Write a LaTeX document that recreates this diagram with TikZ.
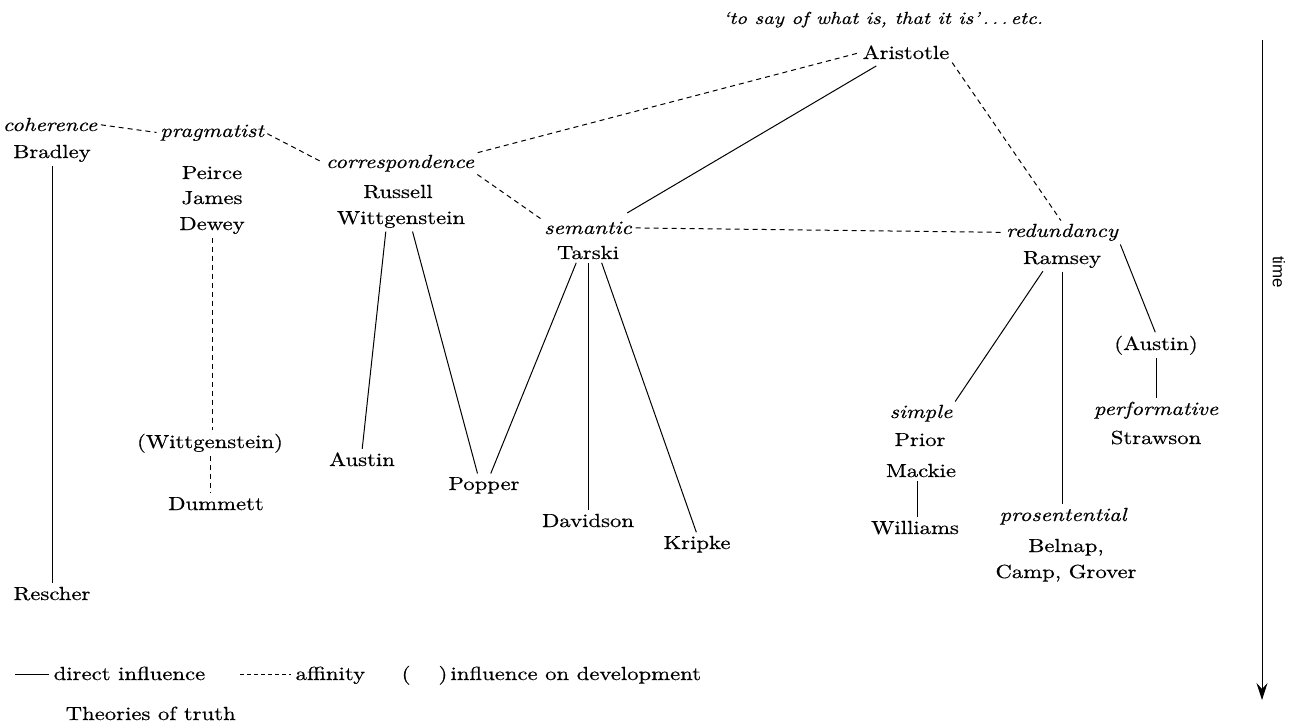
\documentclass[tikz,border=0pt]{standalone}
\usepackage{fontspec}
\setmainfont{lmroman10-regular}[Extension=.otf, ItalicFont=lmroman10-italic, BoldFont=lmroman10-bold, FakeStretch=1.2, FakeBold=0.5]
\newfontfamily\timefont{Liberation Sans}
\usetikzlibrary{arrows.meta,calc}

\begin{document}
\begin{tikzpicture}[x=1bp,y=-1bp,
  every node/.style={inner sep=1.5bp, anchor=base, font=\fontsize{19}{22}\selectfont},
  it/.style={font=\fontsize{19}{22}\selectfont\itshape},
  infl/.style={line width=1bp, shorten <=2bp, shorten >=2bp},
  affin/.style={line width=1bp, dash pattern=on 5bp off 4bp, shorten <=2bp, shorten >=2bp},
  legtext/.style={anchor=base west}]
\useasboundingbox (0,0) rectangle (1305,725);

% --- names and theories ---
\node[it, font=\fontsize{17.5}{21}\selectfont\itshape] (quote) at (883,24) {‘to say of what is, that it is’\,.\,.\,.\,etc.};
\node (arist) at (906,59) {Aristotle};

\node[it] (coh) at (50,131) {coherence};
\node (brad) at (52,158) {Bradley};
\node (resch) at (52,600) {Rescher};

\node[it] (prag) at (212,137) {pragmatist};
\node (peirce) at (212,179) {Peirce};
\node (james) at (212,204) {James};
\node (dewey) at (212,230) {Dewey};
\node (wittp) at (210,448) {(Wittgenstein)};
\node (dumm) at (216,510) {Dummett};

\node[it] (corr) at (400,168) {correspondence};
\node (russ) at (398,198) {Russell};
\node (wit) at (401,224) {Wittgenstein};
\node (austin) at (362,466) {Austin};
\node (popper) at (484,490) {Popper};

\node[it] (sem) at (588,234) {semantic};
\node (tarski) at (588,259) {Tarski};
\node (david) at (588,527) {Davidson};
\node (kripke) at (697,549) {Kripke};

\node[it] (red) at (1062,237) {redundancy};
\node (ramsey) at (1062,264) {Ramsey};
\node[it] (simple) at (921,418) {simple};
\node (prior) at (920,446) {Prior};
\node (mackie) at (921,477) {Mackie};
\node (will) at (915,534) {Williams};
\node[it] (prosent) at (1063,521) {prosentential};
\node (belnap) at (1066,552) {Belnap,};
\node (camp) at (1066,578) {Camp, Grover};
\node (austinb) at (1156,350) {(Austin)};
\node[it] (perf) at (1156,415) {performative};
\node (straw) at (1156,444) {Strawson};

% --- affinities (dashed) ---
\draw[affin] (coh.east) -- (prag.west);
\draw[affin] (prag.east) -- (corr.west);
\draw[affin] (corr.north east) -- (arist.west);
\draw[affin] (corr.south east) -- (sem.north west);
\draw[affin] (sem.east) -- (red.west);
\draw[affin] (arist.south east) -- (red.north);
\draw[affin] (dewey.south) -- (dewey.south |- wittp.north);
\draw[affin] (wittp.south) -- (wittp.south |- dumm.north);

% --- direct influences (solid) ---
\draw[infl] ($(sem.north east)+(-8,-6)$) -- ($(arist.south)+(-28,4)$);
\draw[infl] (brad.south) -- (resch.north);
\draw[infl] ($(wit.south)+(-15,0)$) -- (austin.north);
\draw[infl] ($(wit.south)+(11,0)$) -- ($(popper.north)+(-6,0)$);
\draw[infl] ($(tarski.south)+(-11,0)$) -- ($(popper.north)+(6,0)$);
\draw[infl] (tarski.south) -- (david.north);
\draw[infl] ($(tarski.south)+(13,0)$) -- (kripke.north);
\draw[infl] ($(ramsey.south)+(-18,0)$) -- (simple.north east);
\draw[infl] (ramsey.south) -- (ramsey.south |- prosent.north);
\draw[infl] (red.south east) -- (austinb.north);
\draw[infl] (austinb.south) -- (perf.north);
\draw[infl] ($(mackie.south)+(-4,0)$) -- ($(will.north)+(2,0)$);

% --- time axis ---
\coordinate (ttop) at (1262,40);
\coordinate (tbot) at (1262,700);
\draw[line width=1bp, -{Stealth[length=17bp,width=11bp,inset=6bp]}] (ttop) -- (tbot);
\node[rotate=-90, anchor=center, font=\timefont\fontsize{17}{20}\selectfont] (time) at (1279,272) {time};

% --- key ---
\coordinate (ka) at (15,674);
\coordinate (kb) at (49,674);
\draw[line width=1bp] (ka) -- (kb);
\node[legtext] (k1) at (52,680) {direct influence};
\coordinate (kc) at (240,674);
\coordinate (kd) at (291,674);
\draw[line width=1bp, dash pattern=on 4bp off 3bp] (kc) -- (kd);
\node[legtext] (k2) at (294,680) {affinity};
\node[legtext] (k3) at (400,680) {(\hspace{28bp})\,influence on development};
\node[legtext] (title) at (64,720) {Theories of truth};
\end{tikzpicture}
\end{document}
